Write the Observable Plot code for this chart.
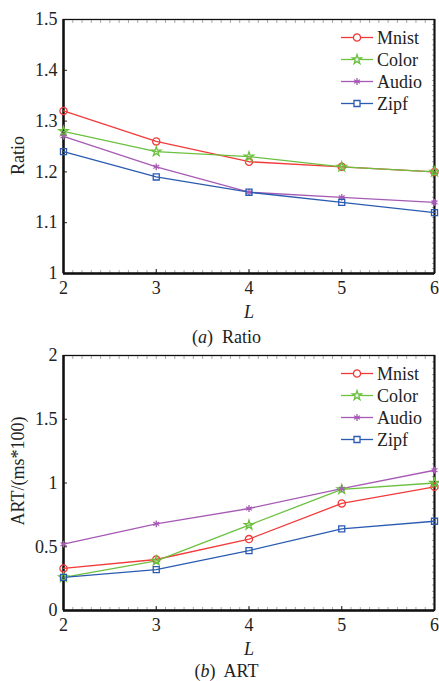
<!DOCTYPE html>
<html>
<head>
<meta charset="utf-8">
<script src="https://cdn.jsdelivr.net/npm/d3@7"></script>
<script src="https://cdn.jsdelivr.net/npm/@observablehq/plot@0.6"></script>
<style>
  body { margin: 0; background: #fff; }
  #wrap { position: relative; width: 439px; height: 681px; font-family: "Liberation Serif", "Times New Roman", serif; }
  #wrap svg.panel { position: absolute; left: 0; background: transparent; }
  .caption { position: absolute; left: 0; width: 439px; text-align: center; font-size: 18px; line-height: 22px; color: #222; padding-left: 14px; box-sizing: border-box; }
  .legend { position: absolute; left: 0; }
</style>
</head>
<body>
<div id="wrap"></div>
<script>
// ---- data ----
const L = [2, 3, 4, 5, 6];
const series = ["Mnist", "Color", "Audio", "Zipf"];
const colors = ["#f23a3a", "#6cc040", "#a65ab4", "#2b5bb0"];
const symbols = ["circle", "star", "asterisk", "square"];

const ratioMnist = [1.32, 1.26, 1.22, 1.21, 1.20];
const ratioColor = [1.28, 1.24, 1.23, 1.21, 1.20];
const ratioAudio = [1.27, 1.21, 1.16, 1.15, 1.14];
const ratioZipf  = [1.24, 1.19, 1.16, 1.14, 1.12];

const artMnist = [0.33, 0.40, 0.56, 0.84, 0.97];
const artColor = [0.26, 0.39, 0.67, 0.95, 1.00];
const artAudio = [0.52, 0.68, 0.80, 0.955, 1.10];
const artZipf  = [0.26, 0.32, 0.47, 0.64, 0.70];

const ratioTicks = [1, 1.1, 1.2, 1.3, 1.4, 1.5];
const artTicks = [0, 0.5, 1, 1.5, 2];

function rows(arrs) {
  const out = [];
  series.forEach((s, i) => L.forEach((l, j) => out.push({L: l, v: arrs[i][j], s})));
  return out;
}

const wrap = document.getElementById("wrap");
const fmt = d3.format("~g");
const FONT = "'Liberation Serif', 'Times New Roman', serif";
const FS = 18;
const symMap = {circle: d3.symbolCircle, star: d3.symbolStar, asterisk: d3.symbolAsterisk, square: d3.symbolSquare};
const symSize = {circle: 3.6, star: 2.9, asterisk: 3.2, square: 3.4};

function panel({data, yDomain, yTicks, yLabel, labelDy, top, height, mt, mb, caption, capY}) {
  const chart = Plot.plot({
    width: 439,
    height,
    marginTop: mt,
    marginBottom: mb,
    marginLeft: 63,
    marginRight: 5,
    style: {fontFamily: FONT, fontSize: FS + "px", color: "#222", background: "transparent", overflow: "visible"},
    x: {domain: [2, 6]},
    y: {domain: yDomain},
    color: {domain: series, range: colors},
    symbol: {domain: series, range: symbols},
    marks: [
      // minor ticks
      Plot.axisX({anchor: "top", ticks: 40, tickSize: -3, tickFormat: () => "", stroke: "#aaa", label: null}),
      Plot.axisX({anchor: "bottom", ticks: 40, tickSize: -3, tickFormat: () => "", stroke: "#aaa", label: null}),
      Plot.axisY({anchor: "right", ticks: 40, tickSize: -3, tickFormat: () => "", stroke: "#aaa", label: null}),
      // major ticks and labels
      Plot.axisX({ticks: L, tickSize: -4, tickPadding: 12, tickFormat: fmt, label: null, stroke: "#222"}),
      Plot.axisY({ticks: yTicks, tickSize: -4, tickPadding: 10, tickFormat: fmt, label: null, stroke: "#222"}),
      Plot.frame({stroke: "#111", strokeWidth: 1.3}),
      Plot.ruleX([2], {stroke: "#111", strokeWidth: 2.5}),
      Plot.ruleX([6], {stroke: "#111", strokeWidth: 2}),
      Plot.ruleY([yDomain[0]], {stroke: "#111", strokeWidth: 2.5}),
      Plot.line(data, {x: "L", y: "v", z: "s", stroke: "s", strokeWidth: 1.3}),
      ...series.map((s, i) => Plot.dot(data.filter(d => d.s === s), {x: "L", y: "v", stroke: "s", symbol: "s", r: symSize[symbols[i]], fill: "none", strokeWidth: 1.3})),
      Plot.text([yLabel], {frameAnchor: "left", textAnchor: "middle", lineAnchor: "middle", dx: -45, dy: labelDy, rotate: -90, fontSize: FS, fill: "#222"}),
      Plot.text(["L"], {frameAnchor: "bottom", textAnchor: "middle", lineAnchor: "middle", dy: 39, fontStyle: "italic", fontSize: FS, fill: "#222"})
    ]
  });
  chart.classList.add("panel");
  chart.style.top = top + "px";
  wrap.appendChild(chart);

  // legend (inside top-right)
  const lg = d3.select(wrap).append("svg").attr("class", "legend")
    .attr("width", 439).attr("height", 130)
    .style("top", (top + mt) + "px");
  series.forEach((s, i) => {
    const y = 18.5 + i * 22;
    const g = lg.append("g").attr("transform", `translate(0,${y})`);
    g.append("line").attr("x1", 341).attr("x2", 373).attr("y1", 0).attr("y2", 0)
      .attr("stroke", colors[i]).attr("stroke-width", 1.3);
    const r = symSize[symbols[i]];
    g.append("path").attr("transform", "translate(357,0)")
      .attr("d", d3.symbol(symMap[symbols[i]], r * r * Math.PI)())
      .attr("fill", "white").attr("stroke", colors[i]).attr("stroke-width", 1.3);
    g.append("text").attr("x", 377).attr("y", 0).attr("dy", "0.35em")
      .style("font-family", FONT).attr("font-size", FS).attr("fill", "#222").text(s);
  });

  const cap = document.createElement("div");
  cap.className = "caption";
  cap.style.top = (capY - 11) + "px";
  cap.innerHTML = caption;
  wrap.appendChild(cap);
}

panel({
  data: rows([ratioMnist, ratioColor, ratioAudio, ratioZipf]),
  yDomain: [1, 1.5], yTicks: ratioTicks, yLabel: "Ratio", labelDy: 9,
  top: 0, height: 330, mt: 19, mb: 57,
  caption: "(<i>a</i>)&nbsp; Ratio", capY: 337
});
panel({
  data: rows([artMnist, artColor, artAudio, artZipf]),
  yDomain: [0, 2], yTicks: artTicks, yLabel: "ART/(ms*100)", labelDy: -12,
  top: 340, height: 330, mt: 15, mb: 60,
  caption: "(<i>b</i>)&nbsp; ART", capY: 671
});
</script>
</body>
</html>
